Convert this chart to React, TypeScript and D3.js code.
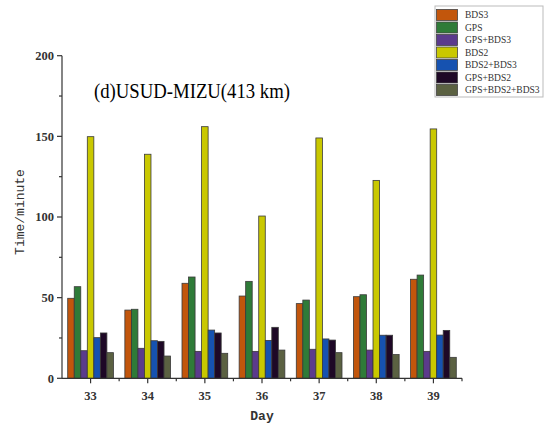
import React, { useEffect, useRef } from "react";
import * as d3 from "d3";

const days = ["33", "34", "35", "36", "37", "38", "39"];
const seriesNames = ["BDS3", "GPS", "GPS+BDS3", "BDS2", "BDS2+BDS3", "GPS+BDS2", "GPS+BDS2+BDS3"];
const seriesColors = ["#c2560c", "#2f7b38", "#5b3b8c", "#c9c800", "#1652b0", "#1e0826", "#5b6142"];

const bds3 = [49.6, 42.3, 58.9, 51.0, 46.3, 50.6, 61.4];
const gps = [56.8, 42.8, 62.8, 60.1, 48.5, 51.8, 64.0];
const gpsBds3 = [17.1, 18.6, 16.7, 16.7, 18.0, 17.5, 16.7];
const bds2 = [149.8, 138.9, 156.0, 100.6, 149.0, 122.7, 154.6];
const bds2Bds3 = [25.2, 23.3, 29.9, 23.5, 24.4, 26.7, 26.8];
const gpsBds2 = [28.1, 22.9, 28.1, 31.6, 23.7, 26.7, 29.7];
const allSystems = [15.9, 13.8, 15.5, 17.5, 15.9, 14.7, 13.0];

const seriesValues = [bds3, gps, gpsBds3, bds2, bds2Bds3, gpsBds2, allSystems];
const yTicks = [0, 50, 100, 150, 200];
const yMinorTicks = [25, 75, 125, 175];

export default function App() {
  const ref = useRef<SVGSVGElement | null>(null);

  useEffect(() => {
    const svg = d3.select(ref.current);
    svg.selectAll("*").remove();

    const left = 62, right = 462, top = 55.7, bottom = 378.3;
    const x = d3.scaleBand<string>().domain(days).range([left, right]).paddingInner(0).paddingOuter(0);
    const inner = d3.scaleBand<string>().domain(seriesNames).range([0, x.bandwidth() * 0.8]);
    const y = d3.scaleLinear().domain([0, 200]).range([bottom, top]);
    const axisColor = "#333";
    const groupOffset = x.bandwidth() * 0.1;

    // bars
    const g = svg.append("g");
    seriesValues.forEach((vals, si) => {
      g.selectAll(null)
        .data(vals)
        .enter()
        .append("rect")
        .attr("x", (_, i) => (x(days[i]) as number) + groupOffset + (inner(seriesNames[si]) as number))
        .attr("y", (v) => y(v))
        .attr("width", inner.bandwidth())
        .attr("height", (v) => y(0) - y(v))
        .attr("fill", seriesColors[si])
        .attr("stroke", "#3a3a3a")
        .attr("stroke-width", 0.8);
    });

    // y axis
    const ya = svg.append("g").attr("stroke", axisColor).attr("stroke-width", 1.2);
    ya.append("line").attr("x1", left).attr("x2", left).attr("y1", top).attr("y2", bottom);
    yTicks.forEach((t) => {
      ya.append("line").attr("x1", left - 5).attr("x2", left).attr("y1", y(t)).attr("y2", y(t));
    });
    yMinorTicks.forEach((t) => {
      ya.append("line").attr("x1", left - 3).attr("x2", left).attr("y1", y(t)).attr("y2", y(t));
    });
    svg
      .append("g")
      .selectAll("text")
      .data(yTicks)
      .enter()
      .append("text")
      .attr("x", left - 8)
      .attr("y", (t) => y(t))
      .attr("dy", "0.35em")
      .attr("text-anchor", "end")
      .attr("font-family", "Liberation Serif, serif")
      .attr("font-size", 12.5)
      .attr("font-weight", 600)
      .attr("fill", "#333")
      .text((t) => String(t));

    // x axis
    const xa = svg.append("g").attr("stroke", axisColor).attr("stroke-width", 1.2);
    xa.append("line").attr("x1", left).attr("x2", right).attr("y1", bottom).attr("y2", bottom);
    days.forEach((d) => {
      const cx = (x(d) as number) + x.bandwidth() / 2;
      xa.append("line").attr("x1", cx).attr("x2", cx).attr("y1", bottom).attr("y2", bottom + 5);
    });
    days.forEach((d) => {
      const bx = (x(d) as number) + x.bandwidth();
      xa.append("line").attr("x1", bx).attr("x2", bx).attr("y1", bottom).attr("y2", bottom + 3);
    });
    svg
      .append("g")
      .selectAll("text")
      .data(days)
      .enter()
      .append("text")
      .attr("x", (d) => (x(d) as number) + x.bandwidth() / 2)
      .attr("y", bottom + 22)
      .attr("text-anchor", "middle")
      .attr("font-family", "Liberation Serif, serif")
      .attr("font-size", 12.5)
      .attr("font-weight", 600)
      .attr("fill", "#333")
      .text((d) => d);

    // axis titles
    svg
      .append("text")
      .attr("x", (left + right) / 2)
      .attr("y", 420)
      .attr("text-anchor", "middle")
      .attr("font-family", "Liberation Mono, monospace")
      .attr("font-size", 13)
      .attr("font-weight", 600)
      .attr("fill", "#333")
      .text("Day");
    svg
      .append("text")
      .attr("transform", `translate(24, ${(top + bottom) / 2 - 5}) rotate(-90)`)
      .attr("text-anchor", "middle")
      .attr("font-family", "Liberation Mono, monospace")
      .attr("font-size", 13)
      .attr("fill", "#333")
      .text("Time/minute");

    // chart title
    svg
      .append("text")
      .attr("x", 94)
      .attr("y", 98)
      .attr("font-family", "Liberation Serif, serif")
      .attr("font-size", 21)
      .attr("textLength", 196)
      .attr("lengthAdjust", "spacingAndGlyphs")
      .attr("fill", "#000")
      .text("(d)USUD-MIZU(413 km)");

    // legend
    const lg = svg.append("g");
    lg.append("rect")
      .attr("x", 435)
      .attr("y", 6)
      .attr("width", 108)
      .attr("height", 91)
      .attr("fill", "#fff")
      .attr("stroke", "#bbb")
      .attr("stroke-width", 1);
    seriesNames.forEach((name, i) => {
      const cy = 15 + i * 12.5;
      lg.append("rect")
        .attr("x", 436.5)
        .attr("y", cy - 5.5)
        .attr("width", 21)
        .attr("height", 11)
        .attr("fill", seriesColors[i])
        .attr("stroke", "#444")
        .attr("stroke-width", 0.8);
      lg.append("text")
        .attr("x", 465)
        .attr("y", cy)
        .attr("dy", "0.35em")
        .attr("font-family", "Liberation Serif, serif")
        .attr("font-size", 9.5)
        .attr("fill", "#333")
        .text(name);
    });
  }, []);

  return (
    <svg
      ref={ref}
      width={550}
      height={428}
      style={{ position: "absolute", left: 0, top: 0, background: "#fff" }}
    />
  );
}
